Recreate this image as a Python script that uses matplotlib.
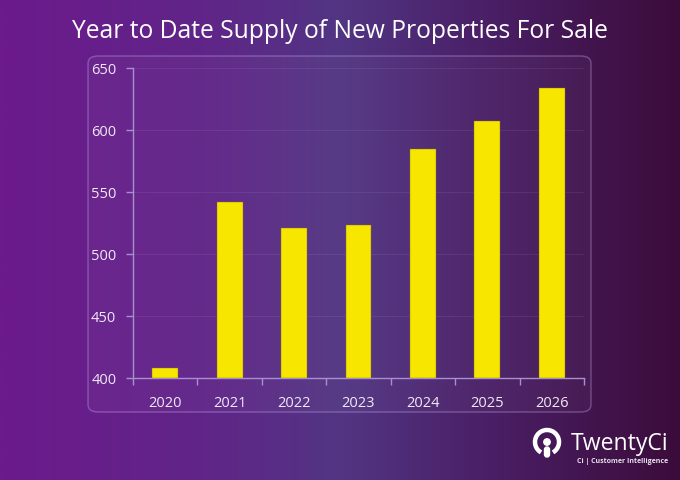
import matplotlib
matplotlib.use("Agg")
import matplotlib.pyplot as plt
import numpy as np
from matplotlib.colors import LinearSegmentedColormap
from matplotlib.patches import FancyBboxPatch, Circle, Arc

years = ["2020", "2021", "2022", "2023", "2024", "2025", "2026"]
supply = [408, 542, 521, 523, 585, 607, 634]
y_ticks = [400, 450, 500, 550, 600, 650]
title = "Year to Date Supply of New Properties For Sale"

plt.rcParams['font.family'] = ['Open Sans', 'DejaVu Sans']

W, H = 680, 481
fig = plt.figure(figsize=(W / 100, H / 100), dpi=100)

# background gradient
bg = fig.add_axes([0, 0, 1, 1], zorder=-10)
cmap = LinearSegmentedColormap.from_list(
    "bg", [(0.0, "#6c1a8c"), (0.3, "#602588"), (0.5, "#523583"), (0.72, "#4a1f66"), (1.0, "#3b0c3a")])
grad = np.linspace(0, 1, 512).reshape(1, -1)
bg.imshow(grad, aspect="auto", cmap=cmap, extent=[0, 1, 0, 1])
bg.set_xlim(0, 1); bg.set_ylim(0, 1)
bg.axis("off")

# panel
panel = FancyBboxPatch((88 / W, 1 - 413 / H), (591 - 88) / W, (413 - 57) / H,
                       boxstyle="round,pad=0,rounding_size=0.015",
                       transform=fig.transFigure, facecolor=(1, 1, 1, 0.03),
                       edgecolor=(0.8, 0.7, 0.95, 0.35), linewidth=1.0, zorder=-5)
fig.patches.append(panel)

ax = fig.add_axes([133 / W, 1 - 379 / H, (584 - 133) / W, (379 - 69) / H])
ax.set_facecolor("none")
x = np.arange(len(years))
ax.bar(x, [v - 400 for v in supply], bottom=400, width=0.4, color="#f6e600",
       edgecolor="#8a7020", linewidth=0.3, zorder=3)
ax.set_xlim(-0.5, len(years) - 0.5)
ax.set_ylim(400, 650)
ax.set_yticks(y_ticks)
ax.set_yticklabels([str(t) for t in y_ticks])
ax.set_xticks(x)
ax.set_xticklabels(years)
ax.set_xticks(np.arange(-0.5, len(years)), minor=True)
axcol = "#a88fcf"
ax.tick_params(axis="x", which="major", length=0, pad=12, labelsize=10.5, labelcolor="#f1e8f7")
ax.tick_params(axis="x", which="minor", length=5, color=axcol, width=1)
ax.tick_params(axis="y", length=5, color=axcol, width=1, pad=7, labelsize=10.5, labelcolor="#f1e8f7")
ax.grid(axis="y", color="white", alpha=0.07, linewidth=0.8, zorder=0)
for s in ["top", "right"]:
    ax.spines[s].set_visible(False)
for s in ["left", "bottom"]:
    ax.spines[s].set_color(axcol)
    ax.spines[s].set_linewidth(1)

fig.text(0.5, 1 - 31 / H, title, ha="center", va="center", color="white", fontsize=17.7)

# logo
fig.patches.append(Arc((547, H - 443), 24, 24, theta1=-60, theta2=240,
                       transform=None, color="white", linewidth=3.2))
fig.patches.append(Circle((547, H - 443), 3.2, transform=None, color="white"))
fig.patches.append(FancyBboxPatch((544.5, H - 458), 5, 10, boxstyle="round,pad=0,rounding_size=2.5",
                                  transform=None, color="white"))
fig.text(571 / W, 1 - 450 / H, "TwentyCi", color="white", fontsize=16.6, ha="left", va="baseline")
fig.text(668 / W, 1 - 463 / H, "Ci | Customer Intelligence", color="#e8e0ee", fontsize=5.0,
         ha="right", va="baseline", fontweight="bold")

fig.savefig("out.png", dpi=100)
